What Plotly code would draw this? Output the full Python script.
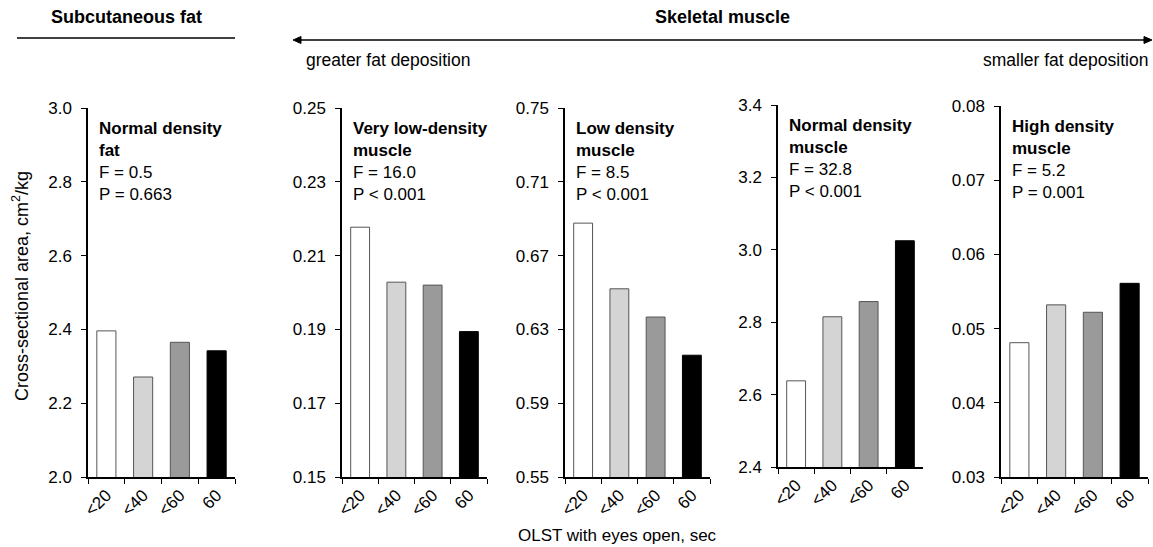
import plotly.graph_objects as go

W, H = 1153, 547

categories = ["<20", "<40", "<60", "60"]
bar_colors = ["#ffffff", "#d4d4d4", "#9a9a9a", "#000000"]
line_colors = ["#555555", "#555555", "#555555", "#000000"]

panel_titles = ["Normal density<br>fat", "Very low-density<br>muscle", "Low density<br>muscle",
                "Normal density<br>muscle", "High density<br>muscle"]
panel_stats = ["F = 0.5<br>P = 0.663", "F = 16.0<br>P < 0.001", "F = 8.5<br>P < 0.001",
               "F = 32.8<br>P < 0.001", "F = 5.2<br>P = 0.001"]

subcut_fat = [2.396, 2.271, 2.365, 2.342]
very_low_density = [0.2177, 0.2028, 0.2020, 0.1894]
low_density = [0.6876, 0.6520, 0.6367, 0.6160]
normal_density = [2.638, 2.815, 2.857, 3.025]
high_density = [0.0481, 0.0532, 0.0522, 0.0561]

series = [subcut_fat, very_low_density, low_density, normal_density, high_density]
y_ranges = [(2.0, 3.0), (0.15, 0.25), (0.55, 0.75), (2.4, 3.4), (0.03, 0.08)]
y_dtick = [0.2, 0.02, 0.04, 0.2, 0.01]
y_fmt = [".1f", ".2f", ".2f", ".1f", ".2f"]

# layout in pixels
x_px = [(88, 235), (342, 487), (565, 710), (778, 923), (1001, 1148)]
y_px = [(108, 477), (108, 477), (108, 477), (105, 467), (106, 477)]

FONT = "Liberation Sans, Arial, sans-serif"

fig = go.Figure()
layout = dict(width=W, height=H, margin=dict(l=0, r=0, t=0, b=0, autoexpand=False),
              paper_bgcolor="white", plot_bgcolor="white", showlegend=False,
              font=dict(family=FONT, color="black", size=17), bargap=0.48)
annotations = []

for i, vals in enumerate(series):
    xa = "x" if i == 0 else f"x{i+1}"
    ya = "y" if i == 0 else f"y{i+1}"
    fig.add_trace(go.Bar(x=categories, y=vals, xaxis=xa, yaxis=ya,
                         marker=dict(color=bar_colors, line=dict(color=line_colors, width=1)),
                         width=0.52))
    x0, x1 = x_px[i]
    yt, yb = y_px[i]
    key = "" if i == 0 else str(i + 1)
    lo, hi = y_ranges[i]
    n = round((hi - lo) / y_dtick[i])
    tv = [lo + k * y_dtick[i] for k in range(n + 1)]
    layout["xaxis" + key] = dict(domain=[x0 / W, x1 / W], anchor=ya, automargin=False,
                                 showline=True, linecolor="black", linewidth=1.5,
                                 ticks="outside", tickson="boundaries", ticklen=5,
                                 tickcolor="black", tickangle=-45,
                                 tickfont=dict(size=17), showgrid=False, fixedrange=True)
    layout["yaxis" + key] = dict(domain=[1 - yb / H, 1 - yt / H], anchor=xa, automargin=False,
                                 range=[lo, hi], tickvals=tv, tickformat=y_fmt[i],
                                 showline=True, linecolor="black", linewidth=1.5,
                                 ticks="outside", ticklen=5, tickcolor="black",
                                 ticklabelstandoff=6,
                                 tickfont=dict(size=17), showgrid=False, zeroline=False)
    annotations.append(dict(xref="paper", yref="paper", x=(x0 + 9) / W, y=1 - (yt + 9) / H,
                            xanchor="left", yanchor="top", align="left", showarrow=False,
                            text=f"<b>{panel_titles[i]}</b><br>{panel_stats[i]}",
                            font=dict(size=17)))

# headers
annotations += [
    dict(xref="paper", yref="paper", x=126 / W, y=1 - 17 / H, text="<b>Subcutaneous fat</b>",
         showarrow=False, xanchor="center", yanchor="middle", font=dict(size=18)),
    dict(xref="paper", yref="paper", x=722 / W, y=1 - 17 / H, text="<b>Skeletal muscle</b>",
         showarrow=False, xanchor="center", yanchor="middle", font=dict(size=18)),
    dict(xref="paper", yref="paper", x=304 / W, y=1 - 60 / H, text="greater fat deposition",
         showarrow=False, xanchor="left", yanchor="middle", font=dict(size=17.5)),
    dict(xref="paper", yref="paper", x=1150 / W, y=1 - 60 / H, text="smaller fat deposition",
         showarrow=False, xanchor="right", yanchor="middle", font=dict(size=17.5)),
    dict(xref="paper", yref="paper", x=617 / W, y=1 - 535 / H, text="OLST with eyes open, sec",
         showarrow=False, xanchor="center", yanchor="middle", font=dict(size=17)),
    dict(xref="paper", yref="paper", x=20 / W, y=1 - 286 / H,
         text="Cross-sectional area, cm<sup>2</sup>/kg", textangle=-90,
         showarrow=False, xanchor="center", yanchor="middle", font=dict(size=18)),
]
layout["annotations"] = annotations


def px(x, y):
    return f"{x / W:.5f},{1 - y / H:.5f}"


ay = 40
layout["shapes"] = [
    dict(type="line", xref="paper", yref="paper", x0=17 / W, x1=235 / W,
         y0=1 - 38 / H, y1=1 - 38 / H, line=dict(color="black", width=1.5)),
    dict(type="line", xref="paper", yref="paper", x0=298 / W, x1=1147 / W,
         y0=1 - ay / H, y1=1 - ay / H, line=dict(color="black", width=1.5)),
    dict(type="path", xref="paper", yref="paper", fillcolor="black", line=dict(color="black", width=1),
         path=f"M{px(293, ay)} L{px(301, ay - 3.5)} L{px(301, ay + 3.5)} Z"),
    dict(type="path", xref="paper", yref="paper", fillcolor="black", line=dict(color="black", width=1),
         path=f"M{px(1152, ay)} L{px(1144, ay - 3.5)} L{px(1144, ay + 3.5)} Z"),
]
fig.update_layout(**layout)
fig.write_html("out.html")
